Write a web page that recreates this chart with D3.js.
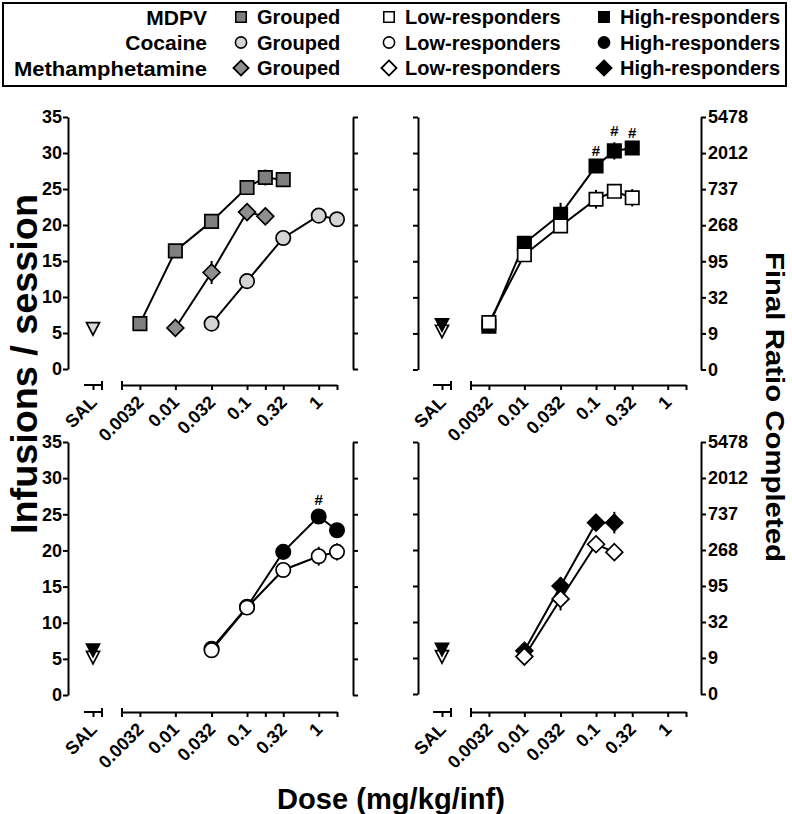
<!DOCTYPE html>
<html>
<head>
<meta charset="utf-8">
<script src="https://cdn.jsdelivr.net/npm/d3@7"></script>
<style>
  html, body { margin: 0; padding: 0; background: #fff; }
  svg { display: block; }
  text { font-family: "Liberation Sans", Arial, Helvetica, sans-serif; font-weight: bold; fill: #000; }
</style>
</head>
<body>
<svg id="chart" width="792" height="814"></svg>
<script>
// ---------------- DATA ----------------
const doseTicks = [0.0032, 0.01, 0.032, 0.1, 0.18, 0.32, 1, 1.8];
const doseTickLabels = ["0.0032", "0.01", "0.032", "0.1", "", "0.32", "1", ""];
const infusionTicks = [0, 5, 10, 15, 20, 25, 30, 35];
const ratioTickLabels = ["0", "9", "32", "95", "268", "737", "2012", "5478"];

const drugs = ["MDPV", "Cocaine", "Methamphetamine"];
const groups = ["Grouped", "Low-responders", "High-responders"];

const mdpvDoses = [0.0032, 0.01, 0.032, 0.1, 0.18, 0.32];
const cocaineDoses = [0.032, 0.1, 0.32, 1, 1.8];
const methDoses = [0.01, 0.032, 0.1, 0.18];

// Grouped (top-left panel)
const mdpvGrouped = [6.3, 16.4, 20.5, 25.2, 26.6, 26.3];
const mdpvGroupedSem = [0.3, 0.5, 0.5, 0.8, 1.1, 1.0];
const cocaineGrouped = [6.3, 12.2, 18.2, 21.3, 20.8];
const cocaineGroupedSem = [0.3, 0.5, 0.5, 0.9, 0.4];
const methGrouped = [5.7, 13.4, 21.8, 21.2];
const methGroupedSem = [0.3, 1.6, 0.6, 0.8];
const salineGrouped = 5.6;

// MDPV low / high responders (top-right panel)
const mdpvLow = [6.5, 15.9, 19.9, 23.6, 24.7, 23.8];
const mdpvLowSem = [0.4, 0.8, 0.8, 1.3, 0.6, 1.2];
const mdpvHigh = [6.0, 17.5, 21.5, 28.2, 30.3, 30.7];
const mdpvHighSem = [0.3, 1.0, 1.6, 0.6, 1.2, 0.5];
const mdpvSaline = [5.3, 6.2];          // [low, high]
const mdpvSig = [0.1, 0.18, 0.32];      // doses marked "#"

// Cocaine low / high responders (bottom-left panel)
const cocaineLow = [6.2, 12.1, 17.3, 19.2, 19.8];
const cocaineLowSem = [0.3, 1.0, 1.0, 1.3, 1.2];
const cocaineHigh = [6.4, 12.2, 19.8, 24.7, 22.8];
const cocaineHighSem = [0.3, 1.0, 0.8, 0.8, 0.5];
const cocaineSaline = [5.2, 6.2];
const cocaineSig = [1];

// Methamphetamine low / high responders (bottom-right panel)
const methLow = [5.2, 13.2, 20.8, 19.7];
const methLowSem = [0.3, 1.6, 0.8, 1.0];
const methHigh = [6.0, 15.0, 23.8, 23.8];
const methHighSem = [0.3, 1.2, 0.8, 1.5];
const methSaline = [5.2, 6.2];

// ---------------- STYLE ----------------
const FILL = {
  mdpvGrouped: "#7f7f7f",
  methGrouped: "#8f8f8f",
  cocaineGrouped: "#d4d4d4",
  salGrouped: "#d9d9d9",
  low: "#ffffff",
  high: "#000000"
};
const SHAPE = { MDPV: "square", Cocaine: "circle", Methamphetamine: "diamond" };

const svg = d3.select("#chart");

function markerPath(shape) {
  if (shape === "square") return "M-6.7,-6.7H6.7V6.7H-6.7Z";
  if (shape === "circle") return d3.arc()({innerRadius: 0, outerRadius: 7.2, startAngle: 0, endAngle: 2 * Math.PI});
  if (shape === "diamond") return "M0,-8.4L8.4,0L0,8.4L-8.4,0Z";
  if (shape === "tri") return "M-6.5,-6L6.5,-6L0,6.5Z";
  return "";
}

// ---------------- PANELS ----------------
const panels = [
  {left: 68, right: 353, top: 117, bottom: 369, axisY: 385, xOff: 0, leftLabels: true},
  {left: 418, right: 701, top: 117, bottom: 369.5, axisY: 385, xOff: 349, leftLabels: false},
  {left: 68, right: 353, top: 442, bottom: 695, axisY: 712, xOff: 0, leftLabels: true},
  {left: 418, right: 701, top: 442, bottom: 694, axisY: 712, xOff: 349, leftLabels: false}
];

function styleXLabels(sel) {
  sel.selectAll("text")
    .style("font-size", "18px")
    .style("text-anchor", "end")
    .attr("y", 0).attr("dy", "0.35em")
    .attr("transform", "translate(0,14) rotate(-45)");
}

function setupPanel(p) {
  const x = d3.scaleLog().domain([0.0018, 1.8]).range([122 + p.xOff, 337 + p.xOff]);
  const salX = 93 + p.xOff;
  const y = d3.scaleLinear().domain([0, 35]).range([p.bottom, p.top]);
  const g = svg.append("g");

  // left y axis
  const yl = g.append("g").attr("transform", `translate(${p.left},0)`)
    .call(d3.axisLeft(y).tickValues(infusionTicks).tickSize(5).tickSizeOuter(0)
      .tickFormat(p.leftLabels ? d3.format("d") : () => ""));
  // right y axis
  const yr = g.append("g").attr("transform", `translate(${p.right},0)`)
    .call(d3.axisRight(y).tickValues(infusionTicks).tickSize(5).tickSizeOuter(0)
      .tickFormat(p.leftLabels ? () => "" : (d, i) => ratioTickLabels[i]));
  [yl, yr].forEach(a => {
    a.selectAll("path, line").attr("stroke", "#000").attr("stroke-width", 2);
    a.selectAll("text").style("font-size", "18px");
  });
  yl.selectAll("text").attr("x", -6);
  yr.selectAll("text").attr("x", 7);

  // x axis main
  const xa = g.append("g").attr("transform", `translate(0,${p.axisY})`)
    .call(d3.axisBottom(x).tickValues(doseTicks).tickSize(5).tickSizeOuter(0)
      .tickFormat((d, i) => doseTickLabels[i]));
  xa.selectAll("path, line").attr("stroke", "#000").attr("stroke-width", 2);
  styleXLabels(xa);
  // start cap
  xa.append("line").attr("x1", x(0.0018)).attr("x2", x(0.0018)).attr("y1", -4).attr("y2", 5)
    .attr("stroke", "#000").attr("stroke-width", 2);

  // SAL axis segment
  const salScale = d3.scalePoint().domain(["SAL"]).range([salX, salX]);
  const sa = g.append("g").attr("transform", `translate(0,${p.axisY})`)
    .call(d3.axisBottom(salScale).tickSize(5).tickSizeOuter(0));
  sa.select("path").attr("d", `M${salX - 9},0H${salX + 9}`);
  sa.selectAll("path, line").attr("stroke", "#000").attr("stroke-width", 2);
  sa.append("line").attr("x1", salX + 9).attr("x2", salX + 9).attr("y1", -4).attr("y2", 5)
    .attr("stroke", "#000").attr("stroke-width", 2);
  styleXLabels(sa);

  return {g, x, y, salX};
}

function drawSeries(P, doses, vals, sems) {
  const pts = doses.map((d, i) => ({d, v: vals[i], s: sems[i]}));
  const line = d3.line().x(o => P.x(o.d)).y(o => P.y(o.v));
  P.g.append("path").datum(pts).attr("d", line)
    .attr("fill", "none").attr("stroke", "#000").attr("stroke-width", 2);
  P.g.selectAll(null).data(pts).enter().append("line")
    .attr("x1", o => P.x(o.d)).attr("x2", o => P.x(o.d))
    .attr("y1", o => P.y(o.v - o.s)).attr("y2", o => P.y(o.v + o.s))
    .attr("stroke", "#000").attr("stroke-width", 2);
  return pts;
}
function drawMarkers(P, pts, shape, fill) {
  P.g.selectAll(null).data(pts).enter().append("path")
    .attr("d", markerPath(shape))
    .attr("transform", o => `translate(${P.x(o.d)},${P.y(o.v)})`)
    .attr("fill", fill).attr("stroke", "#000").attr("stroke-width", 1.7);
}
function drawSal(P, v, fill) {
  P.g.append("path").attr("d", markerPath("tri"))
    .attr("transform", `translate(${P.salX},${P.y(v)})`)
    .attr("fill", fill).attr("stroke", "#000").attr("stroke-width", 1.7);
}
function drawSig(P, doses, allDoses, vals, sems) {
  doses.forEach(d => {
    const i = allDoses.indexOf(d);
    P.g.append("text").attr("x", P.x(d)).attr("y", P.y(vals[i] + sems[i]) - 6)
      .attr("text-anchor", "middle").style("font-size", "15px").text("#");
  });
}

const P1 = setupPanel(panels[0]);
drawSal(P1, salineGrouped, FILL.salGrouped);
const a1 = drawSeries(P1, mdpvDoses, mdpvGrouped, mdpvGroupedSem);
const a2 = drawSeries(P1, methDoses, methGrouped, methGroupedSem);
const a3 = drawSeries(P1, cocaineDoses, cocaineGrouped, cocaineGroupedSem);
drawMarkers(P1, a1, "square", FILL.mdpvGrouped);
drawMarkers(P1, a2, "diamond", FILL.methGrouped);
drawMarkers(P1, a3, "circle", FILL.cocaineGrouped);

function lowHighPanel(p, doses, low, lowSem, high, highSem, sal, sig, shape) {
  const P = setupPanel(p);
  drawSal(P, sal[0], FILL.low);
  drawSal(P, sal[1], FILL.high);
  const h = drawSeries(P, doses, high, highSem);
  const l = drawSeries(P, doses, low, lowSem);
  drawMarkers(P, h, shape, FILL.high);
  drawMarkers(P, l, shape, FILL.low);
  if (sig) drawSig(P, sig, doses, high, highSem);
}
lowHighPanel(panels[1], mdpvDoses, mdpvLow, mdpvLowSem, mdpvHigh, mdpvHighSem, mdpvSaline, mdpvSig, "square");
lowHighPanel(panels[2], cocaineDoses, cocaineLow, cocaineLowSem, cocaineHigh, cocaineHighSem, cocaineSaline, cocaineSig, "circle");
lowHighPanel(panels[3], methDoses, methLow, methLowSem, methHigh, methHighSem, methSaline, null, "diamond");

// ---------------- TITLES ----------------
svg.append("text").attr("transform", "translate(37,364) rotate(-90)")
  .attr("text-anchor", "middle").style("font-size", "37px")
  .attr("textLength", 340).attr("lengthAdjust", "spacingAndGlyphs").text("Infusions / session");
svg.append("text").attr("transform", "translate(766,407) rotate(90)")
  .attr("text-anchor", "middle").style("font-size", "26px")
  .attr("textLength", 310).attr("lengthAdjust", "spacingAndGlyphs").text("Final Ratio Completed");
svg.append("text").attr("x", 391).attr("y", 809)
  .attr("text-anchor", "middle").style("font-size", "30px")
  .attr("textLength", 228).attr("lengthAdjust", "spacingAndGlyphs").text("Dose (mg/kg/inf)");

// ---------------- LEGEND ----------------
const leg = svg.append("g");
leg.append("rect").attr("x", 3).attr("y", 3).attr("width", 783).attr("height", 83)
  .attr("fill", "#fff").attr("stroke", "#000").attr("stroke-width", 2);
const rowY = d3.scalePoint().domain(drugs).range([17, 68]);
const colX = d3.scaleOrdinal().domain(groups).range([241, 389, 604]);
const legFill = {
  MDPV: [FILL.mdpvGrouped, FILL.low, FILL.high],
  Cocaine: [FILL.cocaineGrouped, FILL.low, FILL.high],
  Methamphetamine: [FILL.methGrouped, FILL.low, FILL.high]
};
drugs.forEach(dr => {
  const t = leg.append("text").attr("x", 207).attr("y", rowY(dr)).attr("dy", "0.36em")
    .attr("text-anchor", "end").style("font-size", "21px").text(dr);
  if (dr === "Methamphetamine") t.attr("textLength", 193).attr("lengthAdjust", "spacingAndGlyphs");
  groups.forEach((gr, j) => {
    const cx = colX(gr);
    const sh = SHAPE[dr];
    const scale = sh === "diamond" ? 0.9 : 0.78;
    leg.append("path").attr("d", markerPath(sh))
      .attr("transform", `translate(${cx},${rowY(dr)}) scale(${scale})`)
      .attr("fill", legFill[dr][j]).attr("stroke", "#000").attr("stroke-width", 2);
    leg.append("text").attr("x", cx + 16).attr("y", rowY(dr)).attr("dy", "0.36em")
      .style("font-size", "20px").text(gr);
  });
});
</script>
</body>
</html>
